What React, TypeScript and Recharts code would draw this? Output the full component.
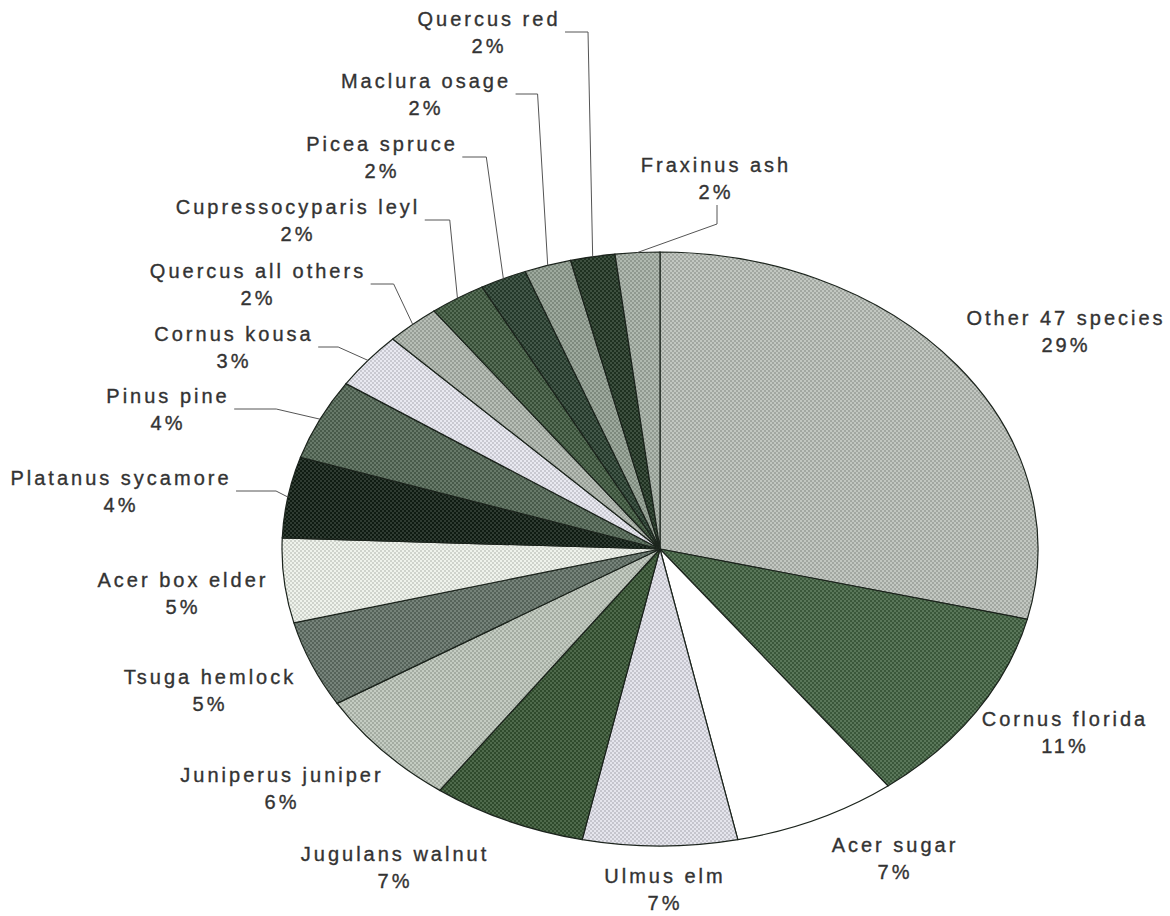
import { PieChart, Pie, Cell } from 'recharts';

const names = [
  'Other 47 species',
  'Cornus florida',
  'Acer sugar',
  'Ulmus elm',
  'Jugulans walnut',
  'Juniperus juniper',
  'Tsuga hemlock',
  'Acer box elder',
  'Platanus sycamore',
  'Pinus pine',
  'Cornus kousa',
  'Quercus all others',
  'Cupressocyparis leyl',
  'Picea spruce',
  'Maclura osage',
  'Quercus red',
  'Fraxinus ash',
];

const shares = [28.8, 10.9, 7.0, 6.6, 6.6, 6.4, 4.7, 4.6, 4.4, 4.4, 3.1, 2.3, 2.4, 2.0, 2.0, 1.9, 1.9];

const fills = [
  '#b2b7b1', '#4a674a', '#ffffff', '#d5d5dd', '#3f5a3c', '#b4bcb2',
  '#66736a', '#dfe3dc', '#1f2b22', '#586a5a', '#d9d9e1', '#a7aea6',
  '#475e47', '#34483a', '#8e9a8e', '#2e4030', '#a0a9a0',
];

const data = names.map((name, i) => ({ name, value: shares[i] }));

const W = 1170;
const H = 916;
const CX = 660;
const CY = 549;
const RX = 378;
const RY = 297;
const FS = 20;
const LS = 3;
const RAD = Math.PI / 180;

// label block centres, relative to the pie centre
const labelAt: [number, number][] = [
  [406, -218], [405, 183], [235, 309], [5, 340], [-265, 318], [-378, 239],
  [-450, 141], [-477, 44], [-539, -58], [-492, -140], [-426, -202],
  [-402, -265], [-362, -329], [-278, -392], [-234, -455], [-171, -517], [56, -371],
];

// leader elbow length (side leaders), -1 = leader from below, null = none
const elbow: (number | null)[] = [
  null, null, null, null, null, null, null, null, 40, 42, 20, 23, 25, 24, 22, 23, -1,
];

function shade(hex: string, d: number) {
  const n = parseInt(hex.slice(1), 16);
  const c = [(n >> 16) & 255, (n >> 8) & 255, n & 255].map((v) =>
    Math.max(0, Math.min(255, v + d))
  );
  return `rgb(${c[0]},${c[1]},${c[2]})`;
}

let ctx: CanvasRenderingContext2D | null = null;
function textWidth(s: string) {
  if (!ctx) ctx = document.createElement('canvas').getContext('2d');
  if (!ctx) return s.length * 14;
  ctx.font = `${FS}px "Liberation Sans", Arial, sans-serif`;
  return ctx.measureText(s).width + LS * (s.length - 1);
}

function EllipseSector(props: any) {
  const { cx, cy, outerRadius, startAngle, endAngle, index } = props;
  const k = RX / outerRadius;
  const pt = (a: number) => [
    cx + k * outerRadius * Math.cos(-a * RAD),
    cy + outerRadius * Math.sin(-a * RAD),
  ];
  const [x0, y0] = pt(startAngle);
  const [x1, y1] = pt(endAngle);
  const large = Math.abs(endAngle - startAngle) > 180 ? 1 : 0;
  const sweep = startAngle > endAngle ? 1 : 0;
  const d = `M${cx},${cy} L${x0},${y0} A${RX},${outerRadius} 0 ${large} ${sweep} ${x1},${y1} Z`;
  const fill = fills[index] === '#ffffff' ? '#ffffff' : `url(#dots${index})`;
  return <path d={d} fill={fill} stroke="#1c241d" strokeWidth={1.2} />;
}

const txt = {
  textAnchor: 'middle' as const,
  fill: '#333',
  stroke: '#333',
  strokeWidth: 0.35,
  fontSize: FS,
  letterSpacing: LS,
  fontFamily: '"Liberation Sans", Arial, sans-serif',
};

function renderLabel(props: any) {
  const { cx, cy, midAngle, outerRadius, percent, index } = props;
  const [dx, dy] = labelAt[index];
  const lx = cx + dx;
  const ly = cy + dy;
  const name = names[index];
  const ax = cx + (RX / outerRadius) * outerRadius * Math.cos(-midAngle * RAD);
  const ay = cy + outerRadius * Math.sin(-midAngle * RAD);
  let line = null;
  const e = elbow[index];
  if (e !== null && e > 0) {
    const sx = lx + textWidth(name) / 2 + 6;
    line = (
      <polyline
        points={`${sx},${ly} ${sx + e},${ly} ${ax},${ay}`}
        fill="none"
        stroke="#555"
        strokeWidth={1}
      />
    );
  } else if (e === -1) {
    line = (
      <polyline
        points={`${lx + 1},${ly + 27} ${lx + 1},${ly + 46} ${ax},${ay}`}
        fill="none"
        stroke="#555"
        strokeWidth={1}
      />
    );
  }
  return (
    <g key={`lbl-${index}`}>
      {line}
      <text x={lx} y={ly - 6} {...txt}>
        {name}
      </text>
      <text x={lx} y={ly + 21} {...txt}>
        {Math.round(percent * 100) + '%'}
      </text>
    </g>
  );
}

export default function App() {
  return (
    <div style={{ position: 'absolute', left: 0, top: 0, width: W, height: H, background: '#fff' }}>
      <PieChart width={W} height={H} margin={{ top: 0, right: 0, bottom: 0, left: 0 }}>
        <defs>
          {fills.map((f, i) => (
            <pattern key={i} id={`dots${i}`} width={4} height={4} patternUnits="userSpaceOnUse">
              <rect width={4} height={4} fill={shade(f, -16)} />
              <rect width={2} height={2} fill={shade(f, 16)} />
              <rect x={2} y={2} width={2} height={2} fill={shade(f, 16)} />
            </pattern>
          ))}
        </defs>
        <Pie
          data={data}
          dataKey="value"
          nameKey="name"
          cx={CX}
          cy={CY}
          outerRadius={RY}
          startAngle={90}
          endAngle={-270}
          shape={(p: any) => <EllipseSector {...p} />}
          label={renderLabel}
          labelLine={false}
          isAnimationActive={false}
        >
          {data.map((d, i) => (
            <Cell key={d.name} fill={fills[i]} />
          ))}
        </Pie>
      </PieChart>
    </div>
  );
}
